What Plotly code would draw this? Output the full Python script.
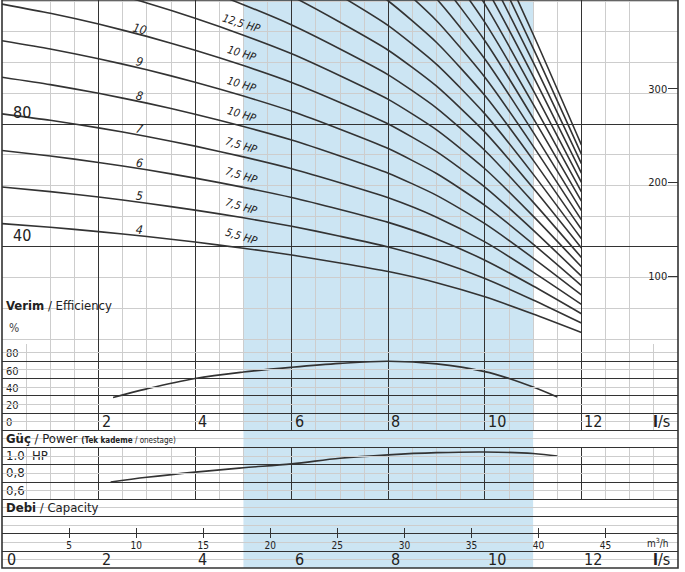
import math

import numpy as np
import plotly.graph_objects as go

# single-stage head curve (m), flow in l/s
flow = [0, 1, 2, 3, 4, 5, 6, 7, 8, 9, 10, 11, 12]
head_per_stage = [11.9, 11.6, 11.25, 10.85, 10.4, 9.9, 9.35, 8.7, 8.0, 7.1, 5.95, 4.55, 3.05]
stages = list(range(4, 25))

# labels along the curves
stage_labels = [4, 5, 6, 7, 8, 9, 10, 11]
motor_hp = ["5,5 HP", "7,5 HP", "7,5 HP", "7,5 HP", "10 HP", "10 HP", "10 HP", "12,5 HP", "15 HP"]

# efficiency (%) and power per stage (HP)
eff_flow = [2.3, 3, 4, 5, 6, 7, 8, 9, 10, 10.5, 11, 11.5]
efficiency = [38, 48, 60, 67.5, 73, 77.5, 80, 77, 68, 60, 50, 38.5]
pow_flow = [2.25, 3, 4, 5, 6, 7, 8, 9, 10, 11, 11.5]
power = [0.80, 0.855, 0.915, 0.965, 1.01, 1.075, 1.115, 1.14, 1.148, 1.13, 1.10]

# tick labels
ls_ticks = [2, 4, 6, 8, 10, 12]
m3h_ticks = [5, 10, 15, 20, 25, 30, 35, 40, 45]
head_ticks_m = [40, 80]
head_ticks_ft = [100, 200, 300]
eff_ticks = [0, 20, 40, 60, 80]
pow_ticks = [0.6, 0.8, 1.0]
pow_text = ["0,6", "0,8", "1.0  HP"]

FONT = "Liberation Sans Narrow, Arial Narrow, DejaVu Sans Condensed, sans-serif"
DARK = "#333333"
GRID = "#cdcdcd"
BLUE = "#cce5f3"

# page geometry (px)
W, H = 685, 572
ML, MR, MT, MB = 2, 7, 0, 4
PLOT_W = W - ML - MR
PLOT_H = H - MT - MB
HEAD_BOTTOM = 344
ROW = 17.25
HEAD_RANGE = [8.45, 120.33]
X_RANGE = [0, 14]
FT_PER_M = 3.2808
PX_PER_M = HEAD_BOTTOM / (HEAD_RANGE[1] - HEAD_RANGE[0])
PX_PER_LS = PLOT_W / (X_RANGE[1] - X_RANGE[0])


def py(px):
    """pixel row inside the plot area -> paper fraction"""
    return 1 - px / PLOT_H


def row_px(unit):
    return HEAD_BOTTOM + (13 - unit) * ROW


fig = go.Figure()

for n in stages:
    fig.add_trace(go.Scatter(
        x=flow, y=[n * h for h in head_per_stage], mode="lines",
        line=dict(color=DARK, width=1.6, shape="spline", smoothing=0.6),
        yaxis="y", hoverinfo="skip", showlegend=False,
    ))

fig.add_trace(go.Scatter(
    x=eff_flow, y=efficiency, mode="lines", yaxis="y4",
    line=dict(color=DARK, width=1.6, shape="spline"), showlegend=False,
))
fig.add_trace(go.Scatter(
    x=pow_flow, y=power, mode="lines", yaxis="y5",
    line=dict(color=DARK, width=1.6, shape="spline"), showlegend=False,
))
# empty traces so the ft and m3/h axes get drawn
fig.add_trace(go.Scatter(x=[None], y=[None], xaxis="x", yaxis="y2", showlegend=False))
fig.add_trace(go.Scatter(x=[None], y=[None], xaxis="x2", yaxis="y3", showlegend=False))


def slope_angle(n, q):
    dh = (np.interp(q + 0.25, flow, head_per_stage) - np.interp(q - 0.25, flow, head_per_stage)) / 0.5
    return math.degrees(math.atan(-n * dh * PX_PER_M / PX_PER_LS))


ann = []
for n in stage_labels:
    q = 2.85
    ann.append(dict(
        x=q, y=n * float(np.interp(q, flow, head_per_stage)), xref="x", yref="y",
        text=f"<i>{n}</i>", showarrow=False, yshift=6, textangle=slope_angle(n, q),
        font=dict(family=FONT, size=12, color="#222"),
    ))
for n, hp in zip(range(4, 4 + len(motor_hp)), motor_hp):
    q = 4.95
    ann.append(dict(
        x=q, y=n * float(np.interp(q, flow, head_per_stage)), xref="x", yref="y",
        text=f"<i>{hp}</i>", showarrow=False, yshift=11, textangle=17,
        font=dict(family=FONT, size=11, color="#222"),
    ))

big = dict(family=FONT, size=16, color="#222")
for v in ls_ticks:
    ann.append(dict(x=v, y=8.5, xref="x", yref="y3", text=str(v), showarrow=False,
                    xanchor="left", xshift=1, font=big))
for v in [0] + ls_ticks:
    ann.append(dict(x=v, y=0.52, xref="x", yref="y3", text=str(v), showarrow=False,
                    xanchor="left", xshift=3 if v == 0 else 1, font=big))
for u in [8.5, 0.52]:
    ann.append(dict(x=13.45, y=u, xref="x", yref="y3", text="<b>l</b>/s", showarrow=False,
                    xanchor="left", font=big))

head_font = dict(family=FONT, size=13, color="#222")
ann += [
    dict(x=0, y=py(305), xref="paper", yref="paper", xanchor="left", xshift=2,
         text="<b>Verim</b> / Efficiency", showarrow=False, font=head_font),
    dict(x=0, y=py(328), xref="paper", yref="paper", xanchor="left", xshift=5,
         text="%", showarrow=False, font=dict(family=FONT, size=12, color="#444")),
    dict(x=0, y=7.5, xref="paper", yref="y3", xanchor="left", xshift=2,
         text="<b>Güç</b> / Power <span style='font-size:8px'><b>(Tek kademe</b> / onestage)</span>",
         showarrow=False, font=head_font),
    dict(x=0, y=3.5, xref="paper", yref="y3", xanchor="left", xshift=2,
         text="<b>Debi</b> / Capacity", showarrow=False, font=head_font),
    dict(x=48.9, y=1.45, xref="x2", yref="y3", text="m<sup>3</sup>/h", showarrow=False,
         font=dict(family=FONT, size=10, color="#222")),
    # 400 ft sits just past the top edge, only its lower part shows
    dict(x=1, y=400, xref="paper", yref="y2", xanchor="right", xshift=-12,
         text="400", showarrow=False, font=dict(family=FONT, size=11, color="#222")),
]

fig.update_layout(
    template="none",
    width=W, height=H,
    margin=dict(l=ML, r=MR, t=MT, b=MB, autoexpand=False),
    paper_bgcolor="white", plot_bgcolor="rgba(0,0,0,0)",
    showlegend=False, hovermode=False,
    font=dict(family=FONT, color="#222"),
    xaxis=dict(
        range=X_RANGE, anchor="y3", automargin=False, showticklabels=False, ticks="",
        zeroline=False, showline=False,
        tick0=0, dtick=2, showgrid=True, gridcolor=DARK, gridwidth=1.4,
        minor=dict(tick0=0, dtick=0.5, showgrid=True, gridcolor=GRID, gridwidth=1.3),
    ),
    xaxis2=dict(
        range=[X_RANGE[0] * 3.6, X_RANGE[1] * 3.6], overlaying="x", anchor="free",
        automargin=False, position=py(538), side="bottom", showgrid=False, zeroline=False,
        showline=False, tickmode="array", tickvals=m3h_ticks, ticks="inside", ticklen=10,
        tickwidth=1, tickcolor=DARK, tickfont=dict(family=FONT, size=10, color="#222"),
    ),
    yaxis=dict(
        domain=[py(HEAD_BOTTOM), 1], range=HEAD_RANGE, anchor="x", automargin=False,
        zeroline=False, showline=False,
        tick0=0, dtick=40, showgrid=True, gridcolor=DARK, gridwidth=1.4,
        minor=dict(tick0=0, dtick=10, showgrid=True, gridcolor=GRID, gridwidth=1.3),
        tickmode="array", tickvals=head_ticks_m, ticks="", ticklabelposition="inside top",
        ticklabelstandoff=8, tickfont=dict(family=FONT, size=16, color="#222"),
    ),
    yaxis2=dict(
        range=[HEAD_RANGE[0] * FT_PER_M, HEAD_RANGE[1] * FT_PER_M], overlaying="y",
        side="right", anchor="x", automargin=False, showgrid=False, zeroline=False,
        showline=False, tickmode="array", tickvals=head_ticks_ft,
        ticks="inside", ticklen=10, tickwidth=1.2, tickcolor=DARK, ticklabelposition="inside",
        tickfont=dict(family=FONT, size=11, color="#222"),
    ),
    yaxis3=dict(
        domain=[0, py(HEAD_BOTTOM)], range=[13 - (PLOT_H - HEAD_BOTTOM) / ROW, 13.001],
        anchor="x", automargin=False, showticklabels=False, ticks="", zeroline=False,
        showline=False,
        tick0=0, dtick=1, showgrid=True, gridcolor=DARK, gridwidth=1.4,
        minor=dict(tick0=0, dtick=0.5, showgrid=True, gridcolor=GRID, gridwidth=1.3),
    ),
    yaxis4=dict(
        domain=[py(row_px(8)), py(row_px(13))], range=[0, 100], anchor="x", automargin=False,
        showgrid=False, zeroline=False, showline=False, tickmode="array", tickvals=eff_ticks,
        ticks="", ticklabelposition="inside top", ticklabelstandoff=1,
        tickfont=dict(family=FONT, size=11, color="#222"),
    ),
    yaxis5=dict(
        domain=[py(row_px(4)), py(row_px(7))], range=[0.6, 1.2], anchor="x", automargin=False,
        showgrid=False, zeroline=False, showline=False, tickmode="array", tickvals=pow_ticks,
        ticktext=pow_text, ticks="", ticklabelposition="inside top", ticklabelstandoff=1,
        tickfont=dict(family=FONT, size=13, color="#222"),
    ),
    shapes=[
        dict(type="rect", xref="x", yref="paper", x0=5, x1=11, y0=0, y1=1,
             fillcolor=BLUE, line=dict(width=0), layer="below"),
        dict(type="rect", xref="paper", yref="paper", x0=0, x1=1, y0=0, y1=1,
             line=dict(color=DARK, width=1.6), layer="above"),
    ],
    annotations=ann,
)

# drop the browser's default body margin so the figure sits at the page corner
fig.write_html(
    "out.html",
    config={"displayModeBar": False},
    post_script="document.body.style.margin = '0';",
)
